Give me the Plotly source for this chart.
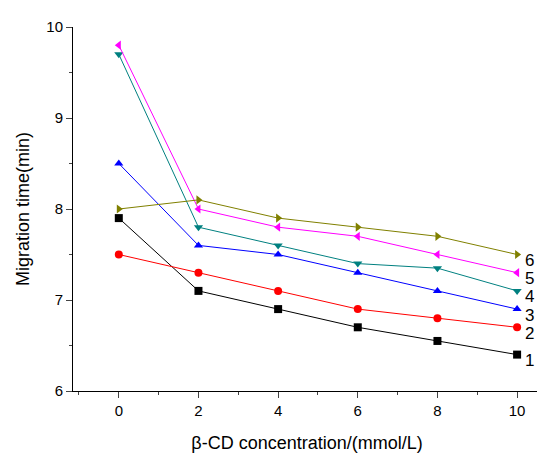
import plotly.graph_objects as go

conc = [0, 2, 4, 6, 8, 10]
s1 = [7.9, 7.1, 6.9, 6.7, 6.55, 6.4]
s2 = [7.5, 7.3, 7.1, 6.9, 6.8, 6.7]
s3 = [8.5, 7.6, 7.5, 7.3, 7.1, 6.9]
s4 = [9.7, 7.8, 7.6, 7.4, 7.35, 7.1]
s5 = [9.8, 8.0, 7.8, 7.7, 7.5, 7.3]
s6 = [8.0, 8.1, 7.9, 7.8, 7.7, 7.5]
labels = ["1", "2", "3", "4", "5", "6"]

series = [s1, s2, s3, s4, s5, s6]
colors = ["#000000", "#ff0000", "#0000ff", "#008080", "#ff00ff", "#808000"]
symbols = ["square", "circle", "triangle-up", "triangle-down", "triangle-left", "triangle-right"]

fig = go.Figure()
for ys, c, sym, lab in zip(series, colors, symbols, labels):
    fig.add_trace(go.Scatter(x=conc, y=ys, mode="lines+markers",
                             line=dict(color=c, width=1),
                             marker=dict(symbol=sym, color=c, size=8),
                             showlegend=False))
    fig.add_annotation(x=conc[-1], y=ys[-1], text=lab, showarrow=False,
                       xanchor="left", xshift=6, yshift=-6,
                       font=dict(size=17, color="black"))

fig.update_layout(
    width=545, height=459, plot_bgcolor="white", paper_bgcolor="white",
    margin=dict(l=65, r=12, t=10, b=76),
    font=dict(family="Liberation Sans, Arial", size=15, color="black"),
    xaxis=dict(range=[-1.15, 10.6], tickvals=conc, showline=True, linecolor="black",
               ticks="outside", ticklen=6, showgrid=False, zeroline=False,
               title=dict(text="β-CD concentration/(mmol/L)", standoff=18),
               minor=dict(ticks="outside", ticklen=3, dtick=1)),
    yaxis=dict(range=[6, 10], dtick=1, showline=True, linecolor="black",
               ticks="outside", ticklen=6, showgrid=False, zeroline=False,
               title=dict(text="Migration time(min)", standoff=12),
               minor=dict(ticks="outside", ticklen=3, dtick=0.5)),
)
fig.write_html("out.html")
